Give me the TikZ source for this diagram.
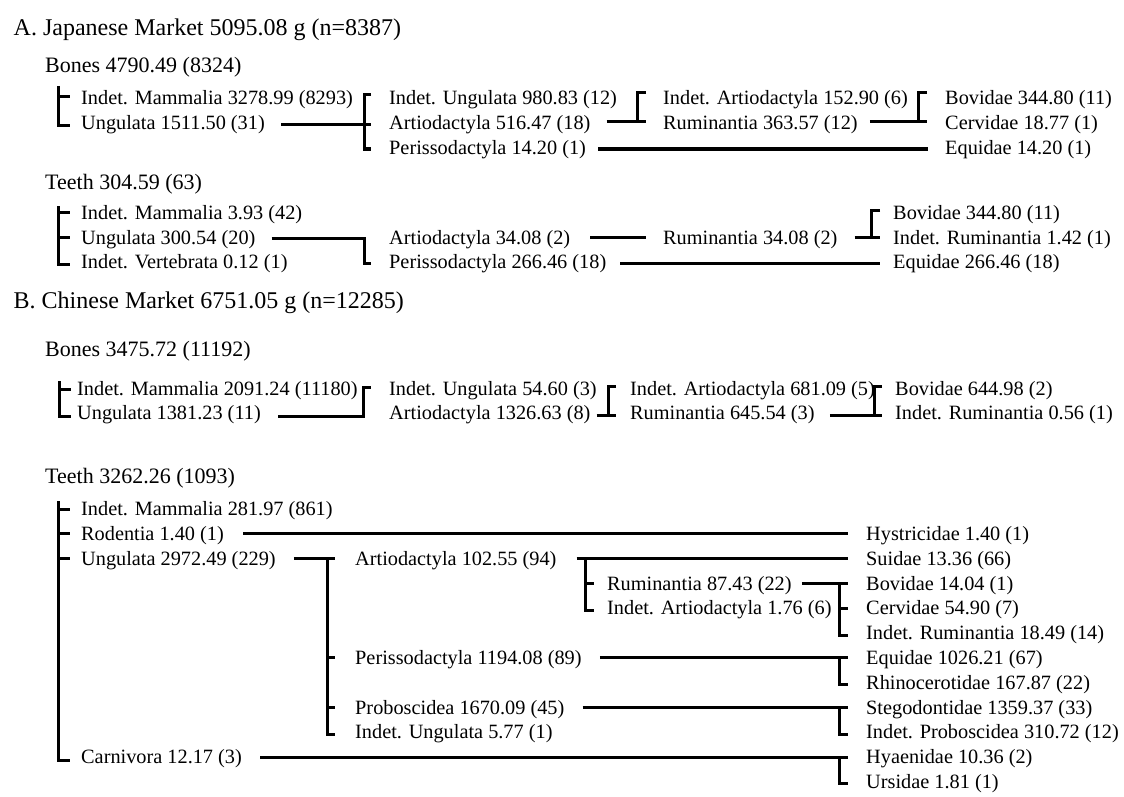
\documentclass[tikz,border=0pt]{standalone}
\usepackage{fontspec}
\setmainfont{Liberation Serif}
\usetikzlibrary{calc}
\begin{document}
\begin{tikzpicture}[x=1pt,y=-1pt,
 lbl/.style={anchor=west,inner sep=0pt,font=\fontsize{20.3}{23}\selectfont,text height=13.4pt,text depth=0pt},
 hdr/.style={lbl,font=\fontsize{22}{25}\selectfont,text height=14.6pt},
 ttl/.style={lbl,font=\fontsize{24}{28}\selectfont,text height=15.9pt},
 ln/.style={line width=3pt,line join=miter}]
\fill[white] (0,0) rectangle (1124,797);
\useasboundingbox (0,0) rectangle (1124,797);
% ---------------- A ----------------
\node[ttl] (tA) at (13.5,28) {A. Japanese Market 5095.08 g (n=8387)};
\node[hdr] (bA) at (45,65) {Bones 4790.49 (8324)};
\node[lbl] (a1) at (81,98) {Indet. Mammalia 3278.99 (8293)};
\node[lbl] (a2) at (81,123) {Ungulata 1511.50 (31)};
\node[lbl] (a3) at (389,98) {Indet. Ungulata 980.83 (12)};
\node[lbl] (a4) at (389,123) {Artiodactyla 516.47 (18)};
\node[lbl] (a5) at (389,148) {Perissodactyla 14.20 (1)};
\node[lbl] (a6) at (663,98) {Indet. Artiodactyla 152.90 (6)};
\node[lbl] (a7) at (663,123) {Ruminantia 363.57 (12)};
\node[lbl] (a8) at (945,98) {Bovidae 344.80 (11)};
\node[lbl] (a9) at (945,123) {Cervidae 18.77 (1)};
\node[lbl] (a10) at (945,148) {Equidae 14.20 (1)};
\draw[ln] ($(a1.west)+(-23,-12)$) -- ($(a2.west)+(-23,3)$) -- ($(a2.west)+(-11,3)$);
\draw[ln] ($(a1.west)+(-23,-1)$) -- ($(a1.west)+(-11,-1)$);
\draw[ln] ($(a3.west)+(-18,-3)$) -- ($(a3.west)+(-25,-3)$) -- ($(a5.west)+(-25,1)$) -- ($(a5.west)+(-18,1)$);
\draw[ln] ($(a2.east)+(16,2)$) -- ($(a4.west)+(-18,2)$);
\draw[ln] ($(a4.east)+(16,-1)$) -- ($(a7.west)+(-17,-1)$);
\draw[ln] ($(a6.west)+(-17,-5)$) -- ($(a6.west)+(-26,-5)$) -- ($(a7.west)+(-26,-1)$);
\draw[ln] ($(a7.east)+(12,-1)$) -- ($(a9.west)+(-18,-1)$);
\draw[ln] ($(a8.west)+(-18,-5)$) -- ($(a8.west)+(-27,-5)$) -- ($(a9.west)+(-27,-1)$);
\draw[ln] ($(a5.east)+(12,1)$) -- ($(a10.west)+(-17,1)$);
% teeth A
\node[hdr] (tAh) at (45,182) {Teeth 304.59 (63)};
\node[lbl] (t1) at (81,213) {Indet. Mammalia 3.93 (42)};
\node[lbl] (t2) at (81,237.5) {Ungulata 300.54 (20)};
\node[lbl] (t3) at (81,262) {Indet. Vertebrata 0.12 (1)};
\node[lbl] (t4) at (389,237.5) {Artiodactyla 34.08 (2)};
\node[lbl] (t5) at (389,262) {Perissodactyla 266.46 (18)};
\node[lbl] (t6) at (663,237.5) {Ruminantia 34.08 (2)};
\node[lbl] (t7) at (893,213) {Bovidae 344.80 (11)};
\node[lbl] (t8) at (893,237.5) {Indet. Ruminantia 1.42 (1)};
\node[lbl] (t9) at (893,262) {Equidae 266.46 (18)};
\draw[ln] ($(t1.west)+(-23,-7)$) -- ($(t3.west)+(-23,2)$) -- ($(t3.west)+(-11,2)$);
\draw[ln] ($(t1.west)+(-23,-1)$) -- ($(t1.west)+(-11,-1)$);
\draw[ln] ($(t2.west)+(-23,0)$) -- ($(t2.west)+(-11,0)$);
\draw[ln] ($(t2.east)+(16,1)$) -- ($(t4.west)+(-25,1)$) -- ($(t5.west)+(-25,1)$) -- ($(t5.west)+(-18,1)$);
\draw[ln] ($(t4.east)+(20,0)$) -- ($(t6.west)+(-17,0)$);
\draw[ln] ($(t6.east)+(17,0)$) -- ($(t8.west)+(-13,0)$);
\draw[ln] ($(t7.west)+(-13,-3)$) -- ($(t7.west)+(-22,-3)$) -- ($(t8.west)+(-22,0)$);
\draw[ln] ($(t5.east)+(14,1)$) -- ($(t9.west)+(-13,1)$);
% ---------------- B ----------------
\node[ttl] (tB) at (13.5,301) {B. Chinese Market 6751.05 g (n=12285)};
\node[hdr] (bB) at (45,349) {Bones 3475.72 (11192)};
\node[lbl] (c1) at (77,389) {Indet. Mammalia 2091.24 (11180)};
\node[lbl] (c2) at (77,413) {Ungulata 1381.23 (11)};
\node[lbl] (c3) at (389,389) {Indet. Ungulata 54.60 (3)};
\node[lbl] (c4) at (389,413) {Artiodactyla 1326.63 (8)};
\node[lbl] (c5) at (630,389) {Indet. Artiodactyla 681.09 (5)};
\node[lbl] (c6) at (630,413) {Ruminantia 645.54 (3)};
\node[lbl] (c7) at (895,389) {Bovidae 644.98 (2)};
\node[lbl] (c8) at (895,413) {Indet. Ruminantia 0.56 (1)};
\draw[ln] ($(c1.west)+(-18,-8)$) -- ($(c2.west)+(-18,3)$) -- ($(c2.west)+(-6,3)$);
\draw[ln] ($(c1.west)+(-18,0)$) -- ($(c1.west)+(-6,0)$);
\draw[ln] ($(c2.east)+(17,3)$) -- ($(c4.west)+(-26,3)$) -- ($(c3.west)+(-26,-2)$) -- ($(c3.west)+(-18,-2)$);
\draw[ln] ($(c4.east)+(6,2)$) -- ($(c6.west)+(-14,2)$);
\draw[ln] ($(c5.west)+(-14,-3)$) -- ($(c5.west)+(-22,-3)$) -- ($(c6.west)+(-22,2)$);
\draw[ln] ($(c6.east)+(15,2)$) -- ($(c8.west)+(-13,2)$);
\draw[ln] ($(c7.west)+(-13,-3)$) -- ($(c7.west)+(-21,-3)$) -- ($(c8.west)+(-21,2)$);
% teeth B
\node[hdr] (tBh) at (45,476) {Teeth 3262.26 (1093)};
\node[lbl] (d1) at (81,509) {Indet. Mammalia 281.97 (861)};
\node[lbl] (d2) at (81,533.8) {Rodentia 1.40 (1)};
\node[lbl] (d3) at (81,558.6) {Ungulata 2972.49 (229)};
\node[lbl] (d4) at (81,757) {Carnivora 12.17 (3)};
\node[lbl] (e1) at (355,558.6) {Artiodactyla 102.55 (94)};
\node[lbl] (e2) at (355,657.8) {Perissodactyla 1194.08 (89)};
\node[lbl] (e3) at (355,707.4) {Proboscidea 1670.09 (45)};
\node[lbl] (e4) at (355,732.2) {Indet. Ungulata 5.77 (1)};
\node[lbl] (f1) at (607,583.4) {Ruminantia 87.43 (22)};
\node[lbl] (f2) at (607,608.2) {Indet. Artiodactyla 1.76 (6)};
\node[lbl] (g1) at (866,533.8) {Hystricidae 1.40 (1)};
\node[lbl] (g2) at (866,558.6) {Suidae 13.36 (66)};
\node[lbl] (g3) at (866,583.4) {Bovidae 14.04 (1)};
\node[lbl] (g4) at (866,608.2) {Cervidae 54.90 (7)};
\node[lbl] (g5) at (866,633) {Indet. Ruminantia 18.49 (14)};
\node[lbl] (g6) at (866,657.8) {Equidae 1026.21 (67)};
\node[lbl] (g7) at (866,682.6) {Rhinocerotidae 167.87 (22)};
\node[lbl] (g8) at (866,707.4) {Stegodontidae 1359.37 (33)};
\node[lbl] (g9) at (866,732.2) {Indet. Proboscidea 310.72 (12)};
\node[lbl] (g10) at (866,757) {Hyaenidae 10.36 (2)};
\node[lbl] (g11) at (866,781.8) {Ursidae 1.81 (1)};
\draw[ln] ($(d1.west)+(-23,-8)$) -- ($(d4.west)+(-23,3)$) -- ($(d4.west)+(-11,3)$);
\foreach \n in {d1,d2,d3} \draw[ln] ($(\n.west)+(-23,0)$) -- ($(\n.west)+(-11,0)$);
\draw[ln] ($(d2.east)+(19,0)$) -- ($(g1.west)+(-18,0)$);
\draw[ln] ($(d3.east)+(18,0)$) -- ($(e1.west)+(-20,0)$);
\draw[ln] ($(e1.west)+(-28,0)$) -- ($(e4.west)+(-28,2)$) -- ($(e4.west)+(-20,2)$);
\foreach \n in {e2,e3} \draw[ln] ($(\n.west)+(-28,0)$) -- ($(\n.west)+(-20,0)$);
\draw[ln] ($(e1.east)+(20,0)$) -- ($(g2.west)+(-18,0)$);
\draw[ln] ($(f1.west |- g2.west)+(-22,0)$) -- ($(f2.west)+(-22,2)$) -- ($(f2.west)+(-13,2)$);
\draw[ln] ($(f1.west)+(-22,0)$) -- ($(f1.west)+(-13,0)$);
\draw[ln] ($(f1.east)+(10,0)$) -- ($(g3.west)+(-18,0)$);
\draw[ln] ($(g3.west)+(-27,0)$) -- ($(g5.west)+(-27,2)$) -- ($(g5.west)+(-18,2)$);
\draw[ln] ($(g4.west)+(-27,0)$) -- ($(g4.west)+(-18,0)$);
\draw[ln] ($(e2.east)+(18,0)$) -- ($(g6.west)+(-18,0)$);
\draw[ln] ($(g6.west)+(-27,0)$) -- ($(g7.west)+(-27,2)$) -- ($(g7.west)+(-18,2)$);
\draw[ln] ($(e3.east)+(18,0)$) -- ($(g8.west)+(-18,0)$);
\draw[ln] ($(g8.west)+(-27,0)$) -- ($(g9.west)+(-27,2)$) -- ($(g9.west)+(-18,2)$);
\draw[ln] ($(d4.east)+(18,0)$) -- ($(g10.west)+(-18,0)$);
\draw[ln] ($(g10.west)+(-27,0)$) -- ($(g11.west)+(-27,2)$) -- ($(g11.west)+(-18,2)$);
\end{tikzpicture}
\end{document}
